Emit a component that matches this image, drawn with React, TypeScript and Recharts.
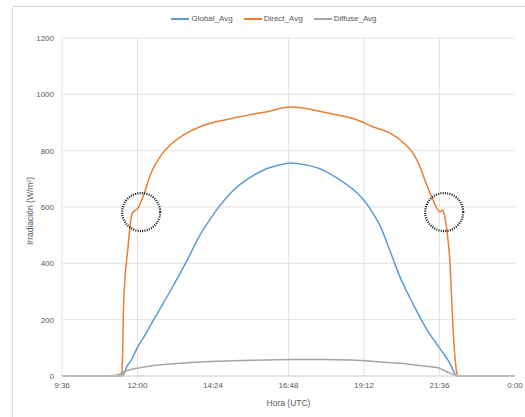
import { LineChart, Line, XAxis, YAxis, CartesianGrid, Legend, ReferenceDot } from 'recharts';

const FONT = '"Liberation Sans", Arial, sans-serif';
const TEXT = '#595959';
const GRID = '#e3e3e3';

// time in minutes from midnight
const xTicks = [576, 720, 864, 1008, 1152, 1296, 1440];
const yTicks = [0, 200, 400, 600, 800, 1000, 1200];
const gridTimes = [576, 720, 1008, 1152, 1296];

const globalTimes = [576, 690, 692, 700, 706, 721, 736, 751, 782, 813, 839, 858, 877, 902, 935, 965, 998, 1011, 1040, 1074, 1106, 1139, 1155, 1169, 1183, 1200, 1221, 1245, 1272, 1297, 1316, 1329, 1340, 1440];
const globalValues = [0, 0, 2, 35, 50, 105, 150, 200, 300, 405, 500, 555, 605, 658, 705, 735, 752, 756, 750, 731, 696, 650, 617, 578, 532, 452, 350, 258, 165, 97, 45, 0, 0, 0];

const directTimes = [576, 665, 680, 690, 691, 692, 693, 696, 702, 705, 710, 715, 721, 728, 734, 740, 744, 763, 782, 807, 839, 870, 902, 935, 965, 1011, 1040, 1074, 1106, 1139, 1169, 1202, 1226, 1245, 1259, 1268, 1281, 1291, 1297, 1302, 1306, 1310, 1316, 1319, 1322, 1326, 1329, 1331, 1340, 1440];
const directValues = [0, 0, 3, 4, 50, 103, 223, 341, 458, 518, 578, 587, 596, 625, 654, 690, 712, 778, 820, 855, 885, 903, 915, 928, 937, 955, 950, 937, 925, 909, 885, 862, 830, 792, 742, 696, 637, 595, 583, 589, 566, 518, 400, 282, 163, 57, 10, 2, 0, 0];

const diffuseTimes = [576, 671, 683, 692, 706, 721, 751, 782, 839, 902, 965, 1011, 1074, 1125, 1154, 1183, 1221, 1245, 1284, 1297, 1310, 1326, 1335, 1440];
const diffuseValues = [0, 0, 3, 14, 22, 28, 37, 43, 50, 54, 57, 59, 59, 57, 54, 50, 45, 40, 32, 27, 15, 3, 0, 0];

// the two marked shoulders
const circleTimes = [727, 1305];
const circleValues = [582, 582];

const toPoints = (ts: number[], vs: number[]) => ts.map((t, i) => ({ t, v: vs[i] }));

const SERIES = [
  { name: 'Global_Avg', color: '#5B9BD5', data: toPoints(globalTimes, globalValues) },
  { name: 'Direct_Avg', color: '#ED7D31', data: toPoints(directTimes, directValues) },
  { name: 'Diffuse_Avg', color: '#A5A5A5', data: toPoints(diffuseTimes, diffuseValues) },
];

const fmtTime = (m: number) => {
  const h = Math.floor(m / 60) % 24;
  const mm = m % 60;
  return `${h}:${mm < 10 ? '0' : ''}${mm}`;
};

const renderLegend = () => (
  <div style={{ display: 'flex', justifyContent: 'center', gap: 11, paddingLeft: 23, fontSize: 8, color: TEXT, fontFamily: FONT }}>
    {SERIES.map((s) => (
      <div key={s.name} style={{ display: 'flex', alignItems: 'center', gap: 2 }}>
        <span style={{ display: 'inline-block', width: 18, height: 2, background: s.color }} />
        <span>{s.name}</span>
      </div>
    ))}
  </div>
);

export default function App() {
  return (
    <div style={{ position: 'fixed', left: 0, top: 0, width: 525, height: 417, background: '#fff', overflow: 'hidden' }}>
      <div style={{ position: 'absolute', left: 12, top: 6, width: 530, height: 430, border: '1px solid #d9d9d9' }} />
      <div style={{ position: 'absolute', left: 0, top: 0 }}>
        <LineChart width={525} height={417} margin={{ top: 38, right: 10, bottom: 0, left: 12 }}>
          <CartesianGrid stroke={GRID} verticalValues={gridTimes} horizontalValues={yTicks} />
          <XAxis
            type="number"
            dataKey="t"
            domain={[576, 1440]}
            ticks={xTicks}
            tickFormatter={fmtTime}
            allowDuplicatedCategory={false}
            height={41}
            axisLine={{ stroke: '#d9d9d9' }}
            tickLine={false}
            tickMargin={0}
            tick={{ fontSize: 8, fill: TEXT, fontFamily: FONT }}
            label={({ viewBox }: any) => (
              <text x={viewBox.x + viewBox.width / 2} y={viewBox.y + viewBox.height - 14} textAnchor="middle" dominantBaseline="central" fontSize={8.5} fill={TEXT} fontFamily={FONT}>
                Hora (UTC)
              </text>
            )}
          />
          <YAxis
            type="number"
            domain={[0, 1200]}
            ticks={yTicks}
            width={50}
            axisLine={false}
            tickLine={false}
            tick={{ fontSize: 8, fill: TEXT, fontFamily: FONT }}
            label={({ viewBox }: any) => {
              const x = viewBox.x + 18;
              const y = viewBox.y + viewBox.height / 2 + 4;
              return (
                <text x={x} y={y} transform={`rotate(-90 ${x} ${y})`} textAnchor="middle" dominantBaseline="central" fontSize={8.5} fill={TEXT} fontFamily={FONT}>
                  Irradiación (W/m²)
                </text>
              );
            }}
          />
          <Legend verticalAlign="middle" align="center" content={renderLegend} wrapperStyle={{ top: 14, left: 0, width: 525 }} />
          {SERIES.map((s) => (
            <Line
              key={s.name}
              name={s.name}
              data={s.data}
              dataKey="v"
              type="monotone"
              stroke={s.color}
              strokeWidth={1.5}
              dot={false}
              isAnimationActive={false}
            />
          ))}
          {circleTimes.map((t, i) => (
            <ReferenceDot key={t} x={t} y={circleValues[i]} r={19} fill="none" stroke="#111" strokeWidth={2.2} strokeDasharray="1 1.3" />
          ))}
        </LineChart>
      </div>
    </div>
  );
}
